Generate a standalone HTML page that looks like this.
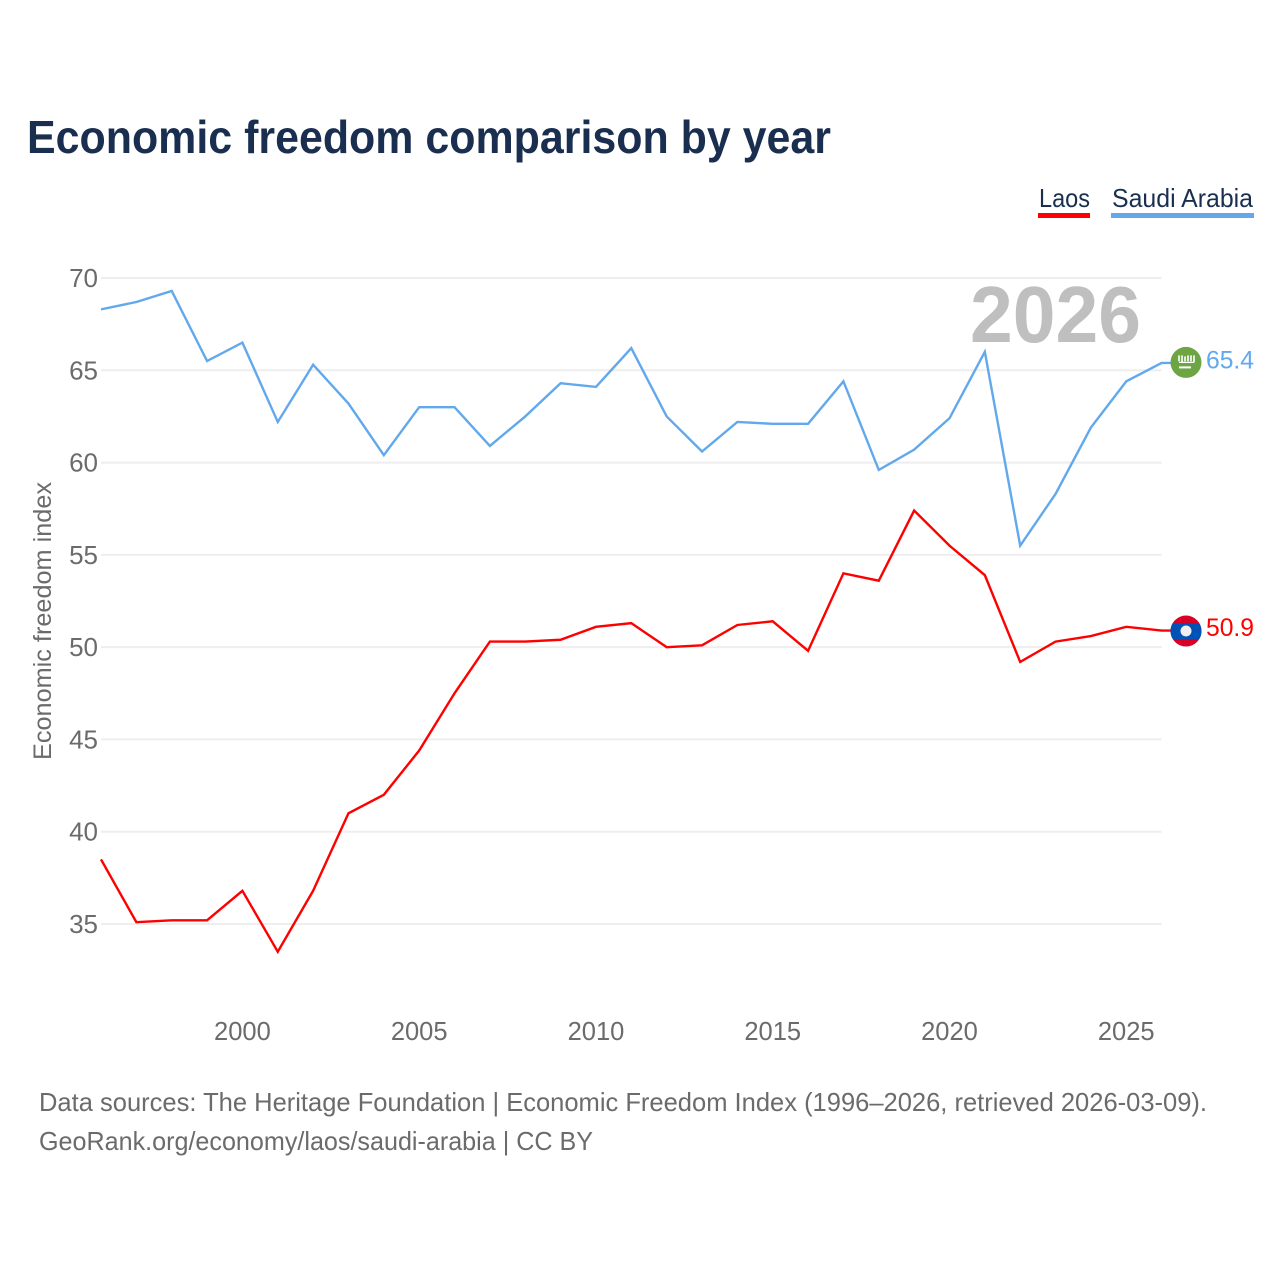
<!DOCTYPE html>
<html lang="en">
<head>
<meta charset="utf-8">
<title>Economic freedom comparison by year</title>
<style>
html,body{margin:0;padding:0;background:#fff;width:1280px;height:1280px;overflow:hidden}
svg{display:block}
text{font-family:"Liberation Sans",sans-serif}
</style>
</head>
<body>
<svg id="chart" xmlns="http://www.w3.org/2000/svg" width="1280" height="1280" viewBox="0 0 1280 1280">
  <rect x="0" y="0" width="1280" height="1280" fill="#fff"/>
  <text x="27" y="153" font-size="46" font-weight="700" fill="#1a2f50" textLength="804" lengthAdjust="spacingAndGlyphs">Economic freedom comparison by year</text>

  <g>
    <g>
      <text x="1039" y="207" font-size="26" fill="#1a2f50" textLength="51" lengthAdjust="spacingAndGlyphs">Laos</text>
      <rect x="1038" y="213" width="52" height="5" fill="#ff0000"/>
    </g>
    <g>
      <text x="1112" y="207" font-size="26" fill="#1a2f50" textLength="141" lengthAdjust="spacingAndGlyphs">Saudi Arabia</text>
      <rect x="1111" y="213" width="143" height="5" fill="#62a8ec"/>
    </g>
  </g>

  <g id="grid"></g>
  <g id="yticks"></g>
  <g id="xticks"></g>

  <text transform="translate(51,760) rotate(-90)" x="0" y="0" font-size="25" fill="#6b6b6b" textLength="278" lengthAdjust="spacingAndGlyphs">Economic freedom index</text>

  <text x="970" y="342" font-size="80" font-weight="700" fill="#bfbfbf" textLength="171" lengthAdjust="spacingAndGlyphs">2026</text>

  <g id="series"></g>

  <g id="flag-sa">
    <circle cx="1186" cy="362" r="15.5" fill="#6da544"/>
    <g stroke="#fff" fill="none" stroke-width="1.6">
      <path d="M1179 355v6M1182 355v7M1185 356v5M1188 355v6M1191 355v6M1194 355v7"/>
      <path d="M1179 362h15" stroke-width="1.2"/>
      <path d="M1179 367h12" stroke-width="2"/>
    </g>
  </g>
  <g id="flag-la">
    <clipPath id="laos-clip"><circle cx="1186" cy="631" r="15.5"/></clipPath>
    <g clip-path="url(#laos-clip)">
      <rect x="1170" y="615" width="32" height="32" fill="#d80027"/>
      <rect x="1170" y="623" width="32" height="16" fill="#0052b4"/>
      <circle cx="1186" cy="631" r="5.5" fill="#f0f0f0"/>
    </g>
  </g>

  <text id="value-sa" x="1206" y="369" font-size="25" fill="#62a8ec" textLength="48" lengthAdjust="spacingAndGlyphs"></text>
  <text id="value-la" x="1206" y="637" font-size="25" fill="#ff0000" textLength="48" lengthAdjust="spacingAndGlyphs"></text>

  <g>
    <text x="39" y="1111" font-size="26" fill="#6b6b6b" textLength="1168" lengthAdjust="spacingAndGlyphs">Data sources: The Heritage Foundation | Economic Freedom Index (1996–2026, retrieved 2026-03-09).</text>
    <text x="39" y="1150" font-size="26" fill="#6b6b6b" textLength="554" lengthAdjust="spacingAndGlyphs">GeoRank.org/economy/laos/saudi-arabia | CC BY</text>
  </g>
</svg>
<script>
const years = [1996,1997,1998,1999,2000,2001,2002,2003,2004,2005,2006,2007,2008,2009,2010,2011,2012,2013,2014,2015,2016,2017,2018,2019,2020,2021,2022,2023,2024,2025,2026];
const laos = [38.5,35.1,35.2,35.2,36.8,33.5,36.8,41.0,42.0,44.4,47.5,50.3,50.3,50.4,51.1,51.3,50.0,50.1,51.2,51.4,49.8,54.0,53.6,57.4,55.5,53.9,49.2,50.3,50.6,51.1,50.9];
const saudiArabia = [68.3,68.7,69.3,65.5,66.5,62.2,65.3,63.2,60.4,63.0,63.0,60.9,62.5,64.3,64.1,66.2,62.5,60.6,62.2,62.1,62.1,64.4,59.6,60.7,62.4,66.0,55.5,58.3,61.9,64.4,65.4];
const yTicks = [35,40,45,50,55,60,65,70];
const xTicks = [2000,2005,2010,2015,2020,2025];

const NS = 'http://www.w3.org/2000/svg';
const x = function (year) { return 101 + (year - 1996) * (1060.6 / 30); };
const y = function (v) { return 924 - (v - 35) * (646 / 35); };

const grid = document.getElementById('grid');
const yG = document.getElementById('yticks');
const xG = document.getElementById('xticks');
const series = document.getElementById('series');

yTicks.forEach(function (t) {
  const line = document.createElementNS(NS, 'line');
  
  
  line.setAttribute('x1', x(1996));
  line.setAttribute('x2', x(2026));
  line.setAttribute('y1', y(t));
  line.setAttribute('y2', y(t));
  line.setAttribute('stroke', '#eeeeee');
  line.setAttribute('stroke-width', '2');
  grid.appendChild(line);

  const label = document.createElementNS(NS, 'text');
  
  
  label.setAttribute('x', 98);
  label.setAttribute('y', y(t) + 9);
  label.setAttribute('text-anchor', 'end');
  label.setAttribute('font-size', '26');
  label.setAttribute('fill', '#6b6b6b');
  label.textContent = t;
  yG.appendChild(label);
});

xTicks.forEach(function (t) {
  const label = document.createElementNS(NS, 'text');
  
  
  label.setAttribute('x', x(t));
  label.setAttribute('y', 1040);
  label.setAttribute('text-anchor', 'middle');
  label.setAttribute('font-size', '25.5');
  label.setAttribute('fill', '#6b6b6b');
  label.textContent = t;
  xG.appendChild(label);
});

function points(values) {
  return values.map(function (v, i) { return x(years[i]).toFixed(2) + ',' + y(v).toFixed(2); }).join(' ');
}

const lineLaos = document.createElementNS(NS, 'polyline');


lineLaos.setAttribute('points', points(laos) + ' 1172,' + y(laos[laos.length - 1]).toFixed(2));
lineLaos.setAttribute('fill', 'none');
lineLaos.setAttribute('stroke', '#ff0000');
lineLaos.setAttribute('stroke-width', '2.4');
lineLaos.setAttribute('stroke-linejoin', 'miter');
series.appendChild(lineLaos);

const lineSaudi = document.createElementNS(NS, 'polyline');


lineSaudi.setAttribute('points', points(saudiArabia) + ' 1172,' + y(saudiArabia[saudiArabia.length - 1]).toFixed(2));
lineSaudi.setAttribute('fill', 'none');
lineSaudi.setAttribute('stroke', '#62a8ec');
lineSaudi.setAttribute('stroke-width', '2.4');
lineSaudi.setAttribute('stroke-linejoin', 'miter');
series.appendChild(lineSaudi);

const lastSaudi = saudiArabia[saudiArabia.length - 1];
const lastLaos = laos[laos.length - 1];
document.getElementById('value-sa').textContent = lastSaudi.toFixed(1);
document.getElementById('value-la').textContent = lastLaos.toFixed(1);
document.getElementById('value-sa').setAttribute('y', y(lastSaudi) + 5.5);
document.getElementById('value-la').setAttribute('y', y(lastLaos) + 5.5);
document.getElementById('flag-sa').setAttribute('transform', 'translate(0,' + (y(lastSaudi) - 362.5).toFixed(2) + ')');
document.getElementById('flag-la').setAttribute('transform', 'translate(0,' + (y(lastLaos) - 630.5).toFixed(2) + ')');
</script>
</body>
</html>
